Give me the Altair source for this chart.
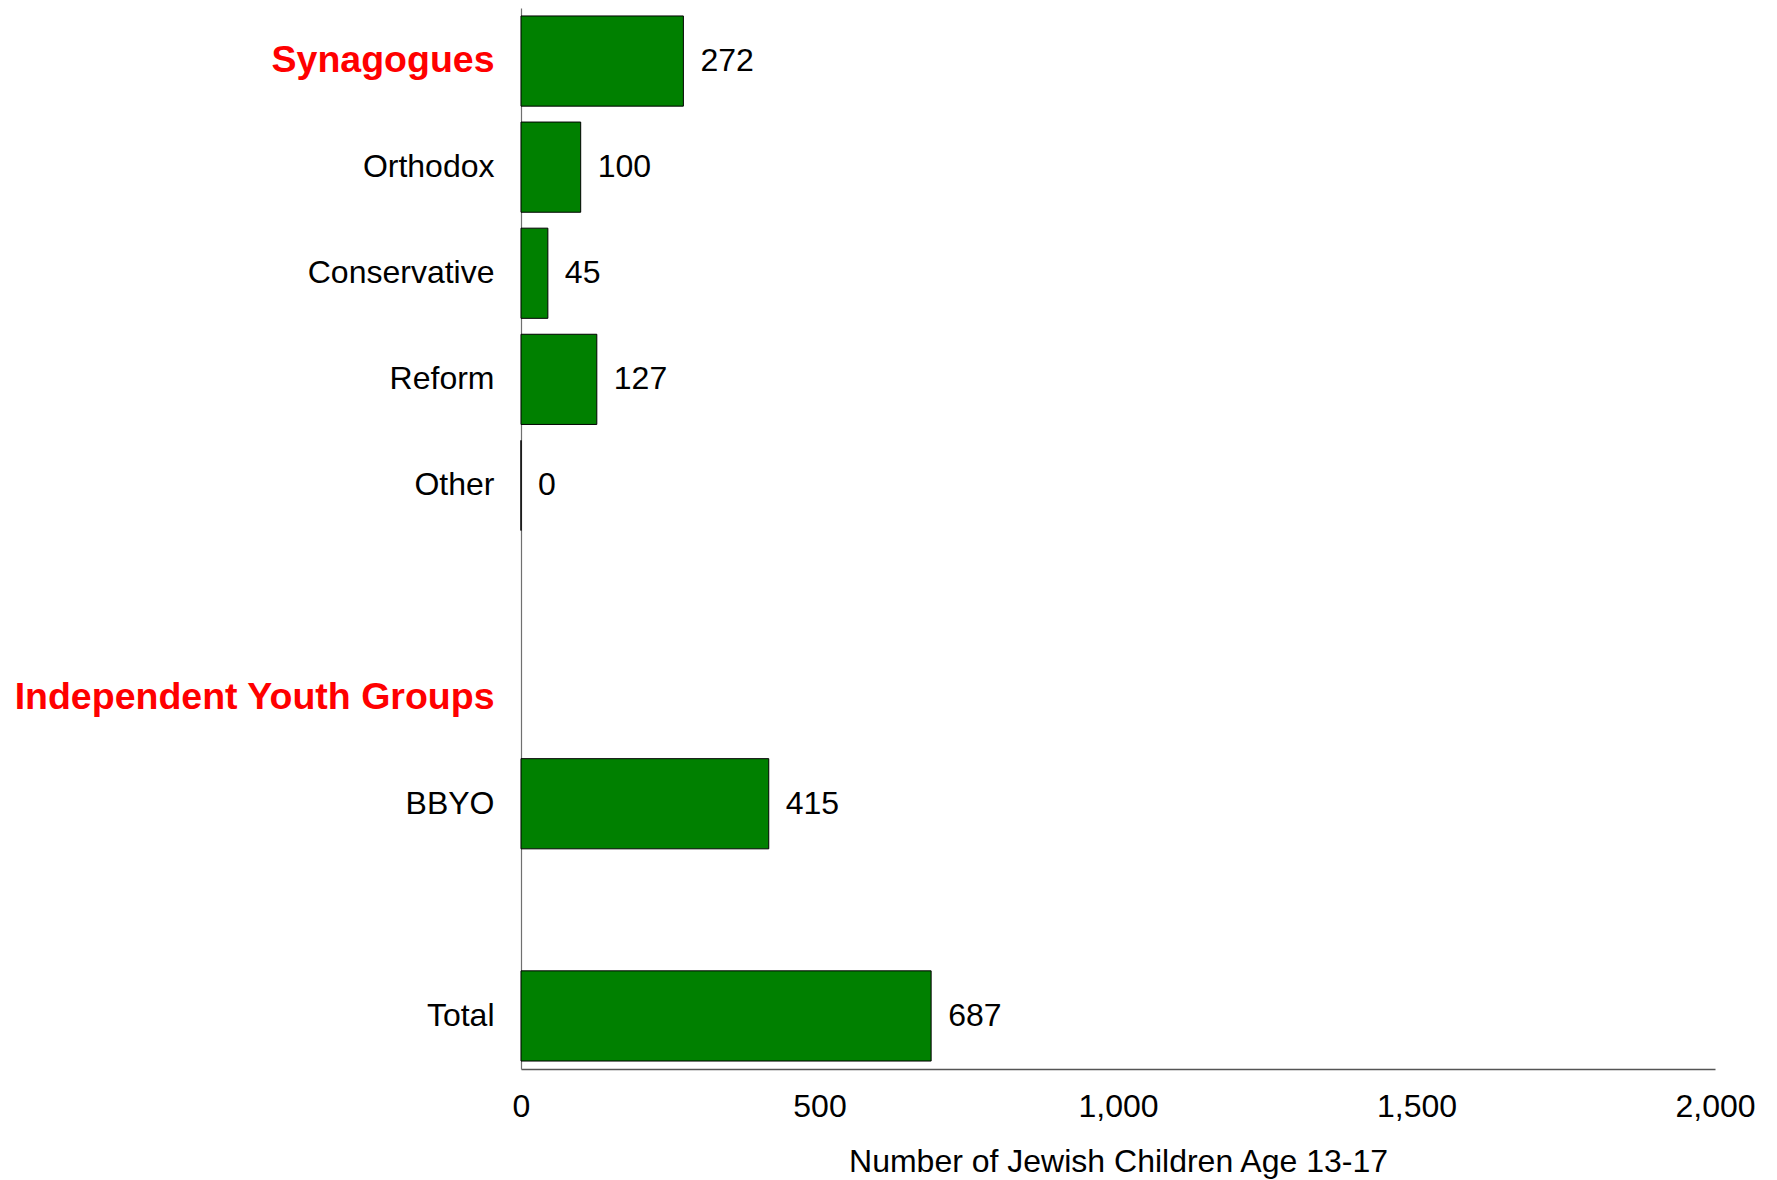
import altair as alt
import pandas as pd

categories = ["Synagogues", "Orthodox", "Conservative", "Reform", "Other", " ",
              "Independent Youth Groups", "BBYO", "  ", "Total"]
values = [272, 100, 45, 127, 0, None, None, 415, None, 687]
headers = ["Synagogues", "Independent Youth Groups"]
x_ticks = [0, 500, 1000, 1500, 2000]

df = pd.DataFrame({"category": categories, "value": values})
bars_df = df.dropna().copy()

FONT = "Liberation Sans"
hdr_list = "[" + ",".join("'" + h + "'" for h in headers) + "]"
is_hdr = f"indexof({hdr_list}, datum.value) >= 0"

y_enc = alt.Y(
    "category:N",
    sort=categories,
    scale=alt.Scale(domain=categories, paddingInner=0.15, paddingOuter=0.075),
    axis=alt.Axis(
        title=None,
        ticks=False,
        tickSize=0,
        labelPadding=27,
        labelLimit=700,
        labelFont=FONT,
        labelFontSize=alt.ExprRef(expr=f"{is_hdr} ? 37.5 : 32"),
        labelFontWeight=alt.ExprRef(expr=f"{is_hdr} ? 'bold' : 'normal'"),
        labelColor=alt.ExprRef(expr=f"{is_hdr} ? '#ff0000' : '#000000'"),
        domainColor="#707070",
        domainWidth=1.2,
        grid=False,
    ),
)

x_enc = alt.X(
    "value:Q",
    scale=alt.Scale(domain=[0, 2000], nice=False),
    axis=alt.Axis(
        title="Number of Jewish Children Age 13-17",
        values=x_ticks,
        format=",d",
        ticks=False,
        tickSize=0,
        labelPadding=22,
        labelFlush=False,
        labelOverlap=False,
        labelFont=FONT,
        labelFontSize=32,
        labelColor="#000000",
        titleFont=FONT,
        titleFontSize=32,
        titleFontWeight="normal",
        titleColor="#000000",
        titlePadding=24,
        domainColor="#555555",
        domainWidth=1.5,
        grid=False,
    ),
)

bars = alt.Chart(bars_df).mark_bar(
    color="#008000", stroke="#000000", strokeWidth=1
).encode(x=x_enc, y=y_enc)

labels = alt.Chart(bars_df).mark_text(
    align="left", baseline="middle", dx=17, font=FONT, fontSize=32, color="#000000"
).encode(
    x=alt.X("value:Q"),
    y=alt.Y("category:N", sort=categories),
    text=alt.Text("value:Q", format="d"),
)

chart = (
    alt.layer(bars, labels)
    .properties(
        width=1194,
        height=1061,
        padding={"left": 5, "top": 0, "right": 5, "bottom": 8},
        background="white",
    )
    .configure_view(stroke=None)
)

chart.save("out.html", embed_options={"renderer": "svg", "actions": False})
